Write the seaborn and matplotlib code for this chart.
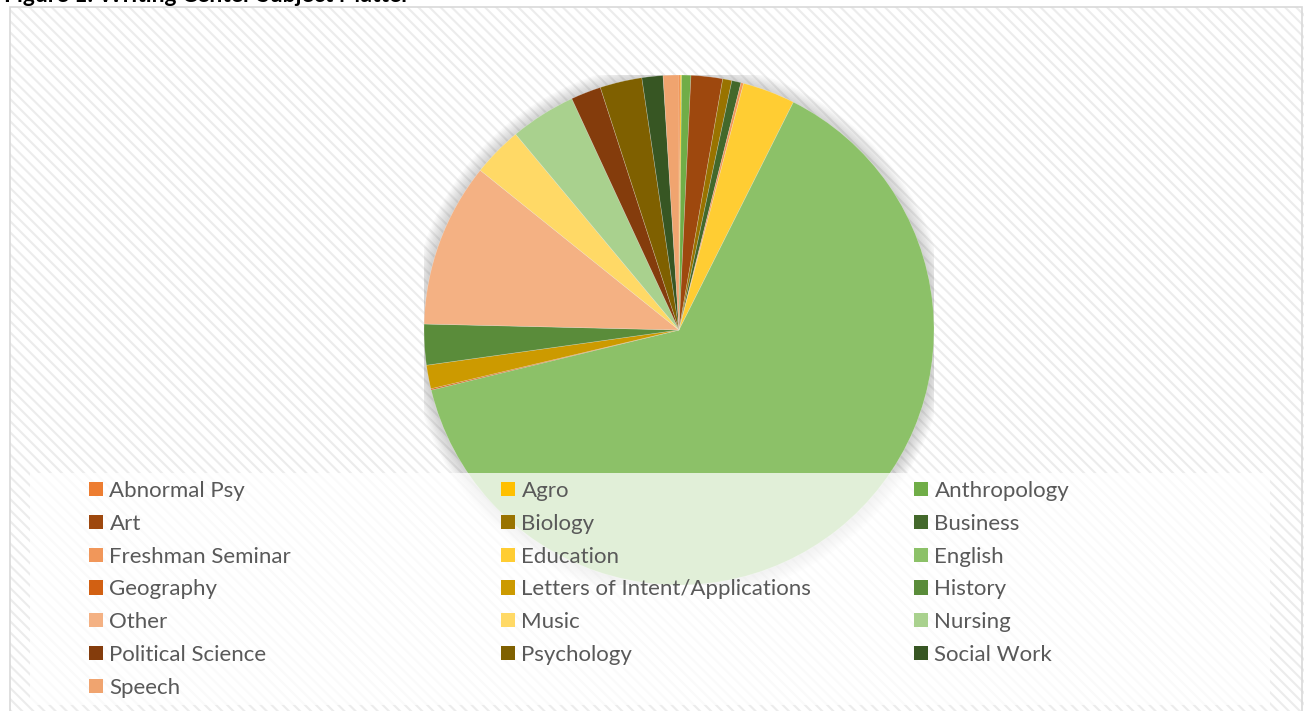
import matplotlib
matplotlib.use("Agg")
import matplotlib.pyplot as plt
from matplotlib.patches import Rectangle, Patch, Circle
import seaborn as sns

# ---------------- data ----------------
categories = ["Abnormal Psy", "Agro", "Anthropology", "Art", "Biology", "Business",
              "Freshman Seminar", "Education", "English", "Geography",
              "Letters of Intent/Applications", "History", "Other", "Music",
              "Nursing", "Political Science", "Psychology", "Social Work", "Speech"]
counts = [1, 1, 7, 24, 7, 7, 2, 40, 767, 1, 18, 31, 125, 38, 50, 23, 32, 16, 12]
colors = ["#ED7D31", "#FFC000", "#70AD47", "#9E480E", "#997300", "#43682B",
          "#F1975A", "#FFCD33", "#8CC168", "#D26012", "#CC9A00", "#5A8C3A",
          "#F4B183", "#FFD966", "#A9D18E", "#843C0C", "#7F6000", "#375623", "#F0A46F"]
title = "Figure 1: Writing Center Subject Matter"

# ---------------- style ----------------
sns.set_theme(style="white")
plt.rcParams['font.family'] = ['Lato', 'DejaVu Sans']
plt.rcParams['hatch.color'] = '#ECECEC'
plt.rcParams['hatch.linewidth'] = 1.5
palette = sns.color_palette(colors)

W, H = 1304, 711
fig = plt.figure(figsize=(W / 100, H / 100), dpi=100)
fig.patch.set_facecolor("white")

def fx(px):
    return px / W

def fy(py):
    return 1 - py / H

# chart area with diagonal stripes
bg = Rectangle((fx(10), 0), 1 - fx(10) + 0.01, fy(7), transform=fig.transFigure,
               facecolor="white", edgecolor="#ECECEC", hatch="\\\\\\", linewidth=0,
               zorder=-10)
fig.add_artist(bg)
border = Rectangle((fx(10), -0.01), 1 - fx(10) - fx(2), fy(7) + 0.01,
                   transform=fig.transFigure, facecolor="none",
                   edgecolor="#D9D9D9", linewidth=1.2, zorder=-9)
fig.add_artist(border)

# title (cut off at the top of the image, as in the reference)
fig.text(fx(4), fy(1.5), title, fontsize=16.5, fontweight="bold", color="black",
         va="baseline", ha="left")

# pie
cx, cy, r = 679, 330, 255
ax = fig.add_axes([fx(cx - r), fy(cy + r), (2 * r) / W, (2 * r) / H])
for k in range(1, 11):
    ax.add_patch(Circle((0.0, -0.004), 1.0 + 0.0055 * k, color="#808080",
                        alpha=0.04, zorder=0, linewidth=0))
ax.pie(counts, colors=palette, startangle=90, counterclock=False,
       wedgeprops=dict(linewidth=0.4, edgecolor=(1, 1, 1, 0.35)))
ax.set_xlim(-1, 1)
ax.set_ylim(-1, 1)
ax.set_aspect("equal")
ax.axis("off")

# legend background
lb = Rectangle((fx(30), fy(705)), fx(1270) - fx(30), fy(473) - fy(705),
               transform=fig.transFigure, facecolor="white", alpha=0.75,
               edgecolor="none", zorder=3)
fig.add_artist(lb)

handles = [Patch(facecolor=c, edgecolor="none") for c in palette]
col_x = [89, 501, 914]
for j in range(3):
    hs = handles[j::3]
    ls = categories[j::3]
    leg = fig.legend(hs, ls, loc="upper left",
                     bbox_to_anchor=(fx(col_x[j]), fy(481)),
                     frameon=False, borderpad=0, borderaxespad=0,
                     handlelength=0.62, handleheight=0.62, handletextpad=0.3,
                     labelspacing=0.575, fontsize=16, labelcolor="#595959")
    leg.set_zorder(5)

fig.savefig("out.png", dpi=100)
